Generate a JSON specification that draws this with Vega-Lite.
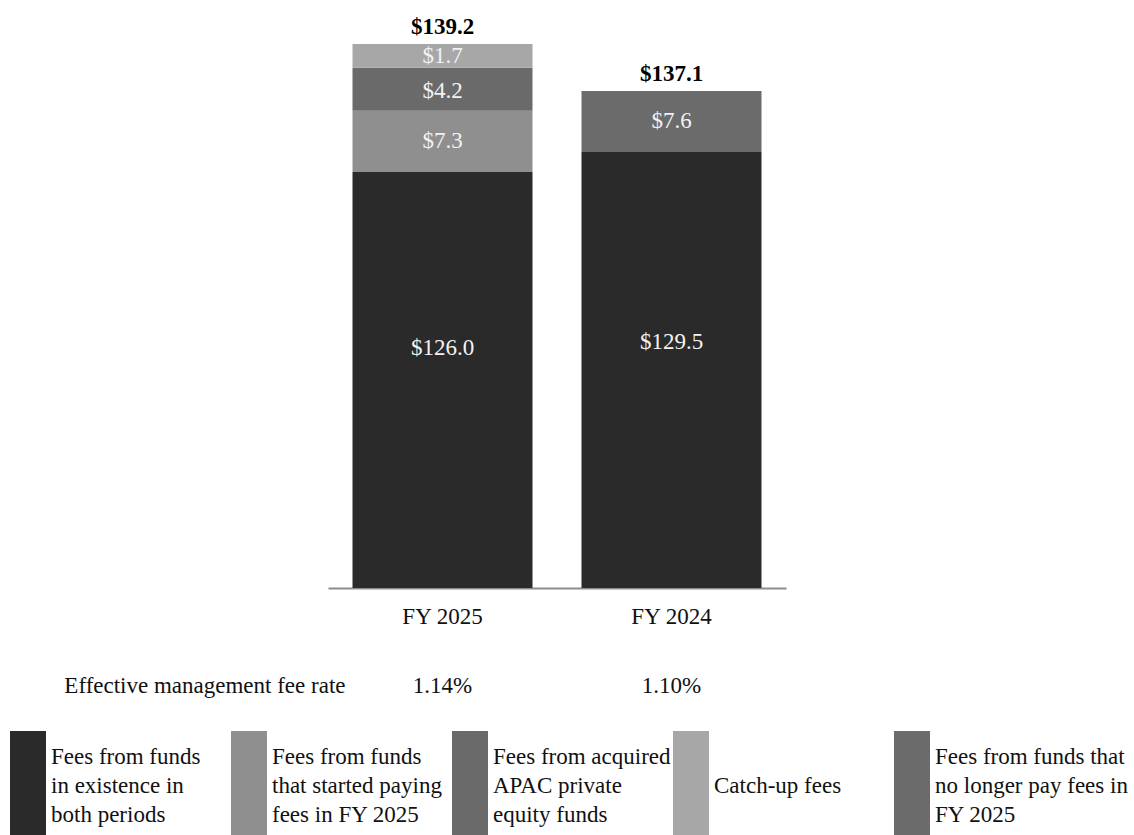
{
  "$schema": "https://vega.github.io/schema/vega-lite/v6.json",
  "padding": 0,
  "spacing": 0,
  "bounds": "flush",
  "background": "white",
  "config": {"view": {"stroke": null}, "font": "Liberation Serif", "text": {"font": "Liberation Serif"}},
  "datasets": {
    "fees": [
      {"year": "FY 2025", "category": "Fees from funds in existence in both periods", "order": 1, "amount": 126.0},
      {"year": "FY 2025", "category": "Fees from funds that started paying fees in FY 2025", "order": 2, "amount": 7.3},
      {"year": "FY 2025", "category": "Fees from acquired APAC private equity funds", "order": 3, "amount": 4.2},
      {"year": "FY 2025", "category": "Catch-up fees", "order": 4, "amount": 1.7},
      {"year": "FY 2024", "category": "Fees from funds in existence in both periods", "order": 1, "amount": 129.5},
      {"year": "FY 2024", "category": "Fees from funds that no longer pay fees in FY 2025", "order": 5, "amount": 7.6}
    ],
    "rates": [
      {"year": "FY 2025", "rate": 0.0114},
      {"year": "FY 2024", "rate": 0.0110}
    ],
    "legendItems": [
      {"category": "Fees from funds in existence in both periods", "label": "Fees from funds\nin existence in\nboth periods"},
      {"category": "Fees from funds that started paying fees in FY 2025", "label": "Fees from funds\nthat started paying\nfees in FY 2025"},
      {"category": "Fees from acquired APAC private equity funds", "label": "Fees from acquired\nAPAC private\nequity funds"},
      {"category": "Catch-up fees", "label": "\nCatch-up fees"},
      {"category": "Fees from funds that no longer pay fees in FY 2025", "label": "Fees from funds that\nno longer pay fees in\nFY 2025"}
    ]
  },
  "vconcat": [
    {
      "width": 1134,
      "height": 588,
      "data": {"name": "fees"},
      "encoding": {
        "x": {
          "field": "year", "type": "nominal", "sort": ["FY 2025", "FY 2024"],
          "scale": {"domain": ["FY 2025", "FY 2024"], "range": [328, 786], "paddingInner": 0.214, "paddingOuter": 0.107},
          "axis": {"title": null, "labels": false, "ticks": false, "tickSize": 0, "grid": false, "domain": true, "domainColor": "#8c8c8c", "domainWidth": 2, "minExtent": 0}
        }
      },
      "layer": [
        {
          "mark": {"type": "bar"},
          "encoding": {
            "y": {
              "field": "amount", "type": "quantitative", "stack": "zero",
              "scale": {"domain": [0, 126, 129.5, 133.3, 137.1, 137.5, 139.2], "range": [588, 172, 152, 110.7, 91, 67.7, 44], "nice": false, "zero": false},
              "axis": null
            },
            "color": {
              "field": "category", "type": "nominal", "legend": null,
              "scale": {
                "domain": ["Fees from funds in existence in both periods", "Fees from funds that started paying fees in FY 2025", "Fees from acquired APAC private equity funds", "Catch-up fees", "Fees from funds that no longer pay fees in FY 2025"],
                "range": ["#2a2a2a", "#8f8f8f", "#6a6a6a", "#a7a7a7", "#6b6b6b"]
              }
            },
            "order": {"field": "order", "type": "quantitative"}
          }
        },
        {
          "transform": [
            {"stack": "amount", "groupby": ["year"], "sort": [{"field": "order"}], "as": ["v0", "v1"]},
            {"filter": "datum.order == 2 || datum.order == 3"},
            {"fold": ["v0", "v1"], "as": ["edge", "pos"]}
          ],
          "mark": {"type": "text", "font": "Liberation Serif", "color": "#f2f2f2", "fontSize": 23, "baseline": "middle", "dy": -9},
          "encoding": {
            "y": {"aggregate": "mean", "field": "pos", "type": "quantitative", "axis": null},
            "text": {"field": "amount", "type": "quantitative", "format": "$.1f"},
            "detail": {"field": "category", "type": "nominal"}
          }
        },
        {
          "transform": [
            {"stack": "amount", "groupby": ["year"], "sort": [{"field": "order"}], "as": ["v0", "v1"]},
            {"filter": "datum.order == 4"},
            {"fold": ["v0", "v1"], "as": ["edge", "pos"]}
          ],
          "mark": {"type": "text", "font": "Liberation Serif", "color": "#f2f2f2", "fontSize": 23, "baseline": "middle"},
          "encoding": {
            "y": {"aggregate": "mean", "field": "pos", "type": "quantitative", "axis": null},
            "text": {"field": "amount", "type": "quantitative", "format": "$.1f"},
            "detail": {"field": "category", "type": "nominal"}
          }
        },
        {
          "transform": [
            {"stack": "amount", "groupby": ["year"], "sort": [{"field": "order"}], "as": ["v0", "v1"]},
            {"filter": "datum.order == 5"},
            {"fold": ["v0", "v1"], "as": ["edge", "pos"]}
          ],
          "mark": {"type": "text", "font": "Liberation Serif", "color": "#f2f2f2", "fontSize": 23, "baseline": "middle", "dy": 10},
          "encoding": {
            "y": {"aggregate": "mean", "field": "pos", "type": "quantitative", "axis": null},
            "text": {"field": "amount", "type": "quantitative", "format": "$.1f"},
            "detail": {"field": "category", "type": "nominal"}
          }
        },
        {
          "transform": [
            {"stack": "amount", "groupby": ["year"], "sort": [{"field": "order"}], "as": ["v0", "v1"]},
            {"filter": "datum.order == 1"},
            {"fold": ["v0", "v1"], "as": ["edge", "pos"]}
          ],
          "mark": {"type": "text", "font": "Liberation Serif", "color": "#f2f2f2", "fontSize": 23, "baseline": "middle", "dy": -32},
          "encoding": {
            "y": {"aggregate": "mean", "field": "pos", "type": "quantitative", "axis": null},
            "text": {"field": "amount", "type": "quantitative", "format": "$.1f"},
            "detail": {"field": "category", "type": "nominal"}
          }
        },
        {
          "mark": {"type": "text", "font": "Liberation Serif", "color": "#000000", "fontSize": 23, "fontWeight": "bold", "baseline": "alphabetic", "dy": -10},
          "encoding": {
            "y": {"aggregate": "sum", "field": "amount", "type": "quantitative", "axis": null},
            "text": {"aggregate": "sum", "field": "amount", "type": "quantitative", "format": "$.1f"}
          }
        }
      ]
    },
    {
      "width": 1134,
      "height": 143,
      "encoding": {
        "x": {
          "field": "year", "type": "nominal", "sort": ["FY 2025", "FY 2024"],
          "scale": {"domain": ["FY 2025", "FY 2024"], "range": [328, 786], "paddingInner": 0.214, "paddingOuter": 0.107},
          "axis": null
        }
      },
      "layer": [
        {
          "data": {"name": "rates"},
          "mark": {"type": "text", "font": "Liberation Serif", "fontSize": 23, "baseline": "middle", "color": "#111111"},
          "encoding": {
            "y": {"datum": "name", "type": "nominal", "scale": {"type": "point", "domain": ["name", "rate"], "range": [29, 98], "padding": 0}, "axis": null},
            "text": {"field": "year", "type": "nominal"}
          }
        },
        {
          "data": {"name": "rates"},
          "mark": {"type": "text", "font": "Liberation Serif", "fontSize": 23, "baseline": "middle", "color": "#111111"},
          "encoding": {
            "y": {"datum": "rate", "type": "nominal", "axis": null},
            "text": {"field": "rate", "type": "quantitative", "format": ".2%"}
          }
        },
        {
          "data": {"values": [{"year": "FY 2025", "label": "Effective management fee rate"}]},
          "mark": {"type": "text", "font": "Liberation Serif", "fontSize": 23, "baseline": "middle", "align": "right", "dx": -97, "color": "#111111"},
          "encoding": {
            "y": {"datum": "rate", "type": "nominal", "axis": null},
            "text": {"field": "label", "type": "nominal"}
          }
        }
      ]
    },
    {
      "width": 1134,
      "height": 104,
      "data": {"name": "legendItems"},
      "encoding": {
        "x": {
          "field": "category", "type": "nominal", "sort": null,
          "scale": {"type": "point", "domain": ["Fees from funds in existence in both periods", "Fees from funds that started paying fees in FY 2025", "Fees from acquired APAC private equity funds", "Catch-up fees", "Fees from funds that no longer pay fees in FY 2025"], "range": [28, 912], "padding": 0},
          "axis": null
        }
      },
      "layer": [
        {
          "mark": {"type": "bar", "width": 36},
          "encoding": {
            "color": {
              "field": "category", "type": "nominal", "legend": null,
              "scale": {
                "domain": ["Fees from funds in existence in both periods", "Fees from funds that started paying fees in FY 2025", "Fees from acquired APAC private equity funds", "Catch-up fees", "Fees from funds that no longer pay fees in FY 2025"],
                "range": ["#2a2a2a", "#8f8f8f", "#6a6a6a", "#a7a7a7", "#6b6b6b"]
              }
            }
          }
        },
        {
          "mark": {"type": "text", "font": "Liberation Serif", "align": "left", "baseline": "middle", "dx": 23, "dy": -26, "fontSize": 23, "lineBreak": "\n", "lineHeight": 29, "color": "#111111"},
          "encoding": {
            "text": {"field": "label", "type": "nominal"}
          }
        }
      ]
    }
  ]
}
